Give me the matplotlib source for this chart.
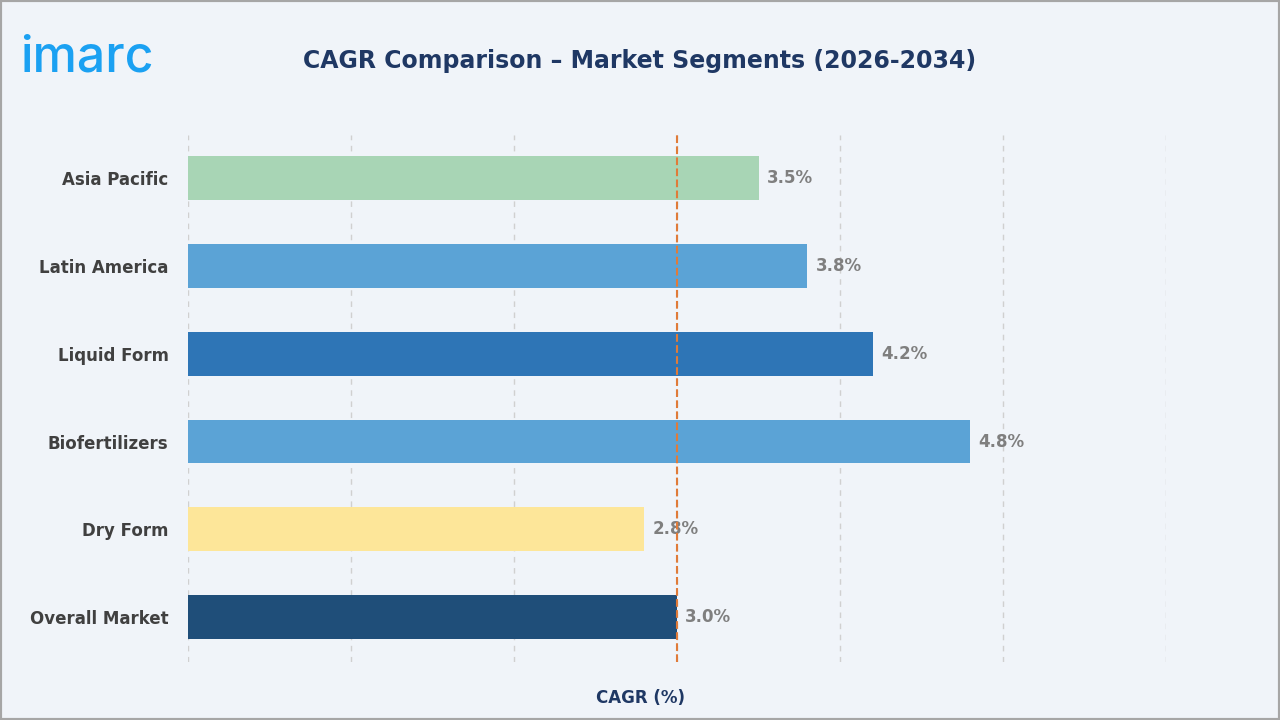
import matplotlib.pyplot as plt

categories = ['Asia Pacific', 'Latin America', 'Liquid Form', 'Biofertilizers', 'Dry Form', 'Overall Market']
values = [3.5, 3.8, 4.2, 4.8, 2.8, 3.0]
colors = ['#a8d5b5', '#5ba3d6', '#2e75b6', '#5ba3d6', '#fde699', '#1f4e79']
labels = ['3.5%', '3.8%', '4.2%', '4.8%', '2.8%', '3.0%']
overall = 3.0

bg = '#f0f4f9'
fig = plt.figure(figsize=(12.8, 7.2), dpi=100, facecolor=bg)
fig.patches.append(plt.Rectangle((0, 0), 1, 1, transform=fig.transFigure,
                                 fill=False, edgecolor='#a6a6a6', lw=3))
ax = fig.add_axes([188/1280, 1 - 662/720, (1166-188)/1280, (662-135)/720])
ax.set_facecolor(bg)

pos = list(range(len(categories)))
ax.barh(pos, values, height=0.5, color=colors, zorder=3)
for p, v, t in zip(pos, values, labels):
    ax.text(v + 0.05, p, t, va='center', ha='left', fontsize=12,
            fontweight='bold', color='#7f7f7f', zorder=4)
ax.axvline(overall, color='#e07b39', ls='--', lw=1.5, zorder=5)

ax.set_xlim(0, 6)
ax.set_ylim(5.51, -0.49)
ax.set_xticks(range(0, 7))
ax.set_xticklabels([])
ax.tick_params(length=0)
ax.grid(axis='x', color='#d0d0d0', ls=(0, (4, 4)), lw=1, zorder=0)
ax.set_yticks(pos)
ax.set_yticklabels(categories, fontsize=12, fontweight='bold', color='#404040')
ax.tick_params(axis='y', pad=14)
for s in ax.spines.values():
    s.set_visible(False)

fig.text(640/1280, 1 - 698/720, 'CAGR (%)', ha='center', va='center',
         fontsize=12, fontweight='bold', color='#1f3864')
fig.text(640/1280, 1 - 61/720, 'CAGR Comparison \u2013 Market Segments (2026-2034)',
         ha='center', va='center', fontsize=17, fontweight='bold', color='#1f3864')
fig.text(20/1280, 1 - 58/720, 'imarc', ha='left', va='center', fontsize=36,
         fontweight='medium', color='#1ba1f2', family='Inter')

fig.savefig('out.png', dpi=100, facecolor=bg)
